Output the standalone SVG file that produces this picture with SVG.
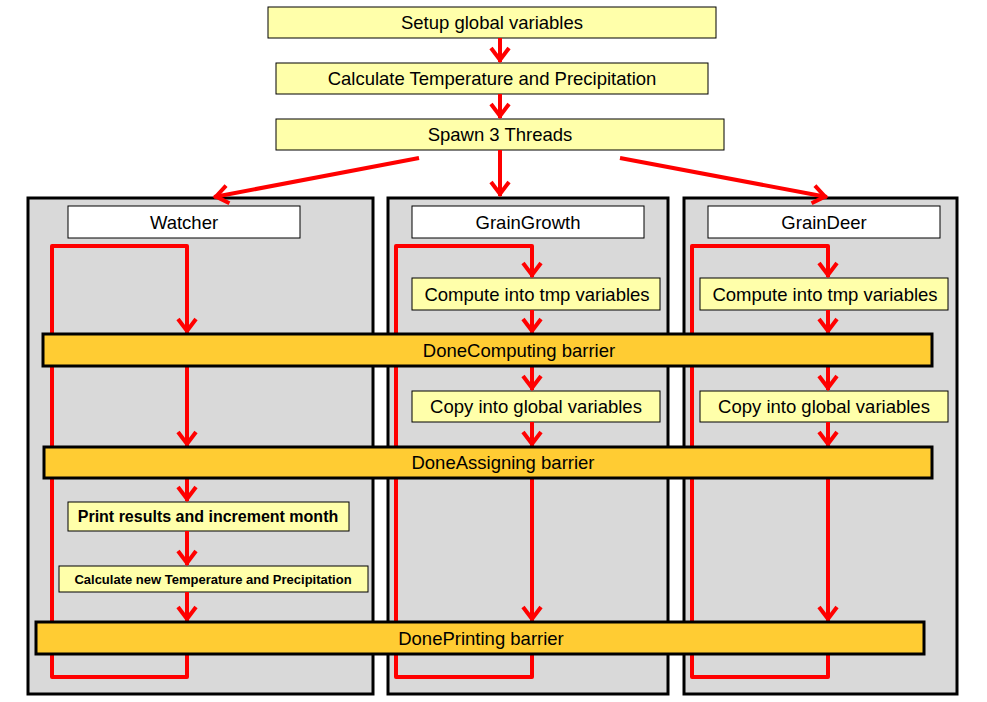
<svg xmlns="http://www.w3.org/2000/svg" width="987" height="702" viewBox="0 0 987 702">
<style>
text{font-family:"Liberation Sans",Arial,sans-serif;fill:#000;text-anchor:middle}
.t{font-size:18.5px}
.box{fill:#FFFFAA;stroke:#000;stroke-width:1}
.title{fill:#FFFFFF;stroke:#000;stroke-width:1}
.cont{fill:#D9D9D9;stroke:#000;stroke-width:3}
.bar{fill:#FFCC33;stroke:#000;stroke-width:3}
.c{fill:none;stroke:#FF0000;stroke-width:4;stroke-linejoin:round}
.a{marker-end:url(#ah)}
</style>
<defs>
<marker id="ah" markerUnits="userSpaceOnUse" markerWidth="30" markerHeight="30" viewBox="-20 -15 30 30" refX="0" refY="0" orient="auto" overflow="visible">
<path d="M-14,-9 L-2,0 L-14,9" fill="none" stroke="#FF0000" stroke-width="4" stroke-linejoin="miter"/>
</marker>
</defs>
<rect width="987" height="702" fill="#FFFFFF"/>

<g id="setup"><rect class="box" x="268" y="7" width="448" height="31"/><text class="t" x="492" y="29">Setup global variables</text></g>
<g id="calc"><rect class="box" x="276" y="63" width="432" height="31"/><text class="t" x="492" y="85">Calculate Temperature and Precipitation</text></g>
<g id="spawn"><rect class="box" x="276" y="119" width="448" height="31"/><text class="t" x="500" y="141">Spawn 3 Threads</text></g>

<g id="watcher"><rect class="cont" x="28" y="198" width="345" height="496"/>
<rect class="title" x="68" y="206" width="232" height="32"/><text class="t" x="184" y="229">Watcher</text></g>
<g id="graingrowth"><rect class="cont" x="388" y="198" width="280" height="496"/>
<rect class="title" x="412" y="206" width="232" height="32"/><text class="t" x="528" y="229">GrainGrowth</text></g>
<g id="graindeer"><rect class="cont" x="684" y="198" width="273" height="496"/>
<rect class="title" x="708" y="206" width="232" height="32"/><text class="t" x="824" y="229">GrainDeer</text></g>

<g id="print"><rect class="box" x="68" y="502" width="281" height="29"/><text x="208" y="522" font-size="16" font-weight="bold">Print results and increment month</text></g>
<g id="calcnew"><rect class="box" x="59" y="566" width="309" height="26"/><text x="213" y="584" font-size="13" font-weight="bold">Calculate new Temperature and Precipitation</text></g>
<g id="gg-compute"><rect class="box" x="412" y="278" width="248" height="32"/><text class="t" x="537" y="301">Compute into tmp variables</text></g>
<g id="gg-copy"><rect class="box" x="412" y="391" width="248" height="31"/><text class="t" x="536" y="413">Copy into global variables</text></g>
<g id="gd-compute"><rect class="box" x="700" y="278" width="248" height="32"/><text class="t" x="825" y="301">Compute into tmp variables</text></g>
<g id="gd-copy"><rect class="box" x="700" y="391" width="248" height="31"/><text class="t" x="824" y="413">Copy into global variables</text></g>

<g id="connectors">
<line class="c a" x1="500" y1="38" x2="500" y2="62"/>
<line class="c a" x1="500" y1="94" x2="500" y2="118"/>
<line class="c a" x1="500" y1="150" x2="500" y2="196"/>
<line class="c a" x1="419" y1="158" x2="214" y2="197"/>
<line class="c a" x1="620" y1="158" x2="827" y2="197"/>

<polyline class="c a" points="187,654 187,677 52,677 52,246 187,246 187,333"/>
<line class="c a" x1="187" y1="366" x2="187" y2="446"/>
<line class="c a" x1="187" y1="478" x2="187" y2="501"/>
<line class="c a" x1="187" y1="531" x2="187" y2="565"/>
<line class="c a" x1="187" y1="592" x2="187" y2="621"/>

<polyline class="c a" points="532,654 532,677 396,677 396,246 532,246 532,277"/>
<line class="c a" x1="532" y1="310" x2="532" y2="333"/>
<line class="c a" x1="532" y1="366" x2="532" y2="390"/>
<line class="c a" x1="532" y1="422" x2="532" y2="446"/>
<line class="c a" x1="532" y1="478" x2="532" y2="621"/>

<polyline class="c a" points="828,654 828,677 692,677 692,246 828,246 828,277"/>
<line class="c a" x1="828" y1="310" x2="828" y2="333"/>
<line class="c a" x1="828" y1="366" x2="828" y2="390"/>
<line class="c a" x1="828" y1="422" x2="828" y2="446"/>
<line class="c a" x1="828" y1="478" x2="828" y2="621"/>
</g>

<g id="donecomputing"><rect class="bar" x="43" y="334" width="889" height="32"/><text class="t" x="519" y="357">DoneComputing barrier</text></g>
<g id="doneassigning"><rect class="bar" x="44" y="447" width="888" height="31"/><text class="t" x="503" y="469">DoneAssigning barrier</text></g>
<g id="doneprinting"><rect class="bar" x="36" y="622" width="888" height="32"/><text class="t" x="481" y="645">DonePrinting barrier</text></g>
</svg>
